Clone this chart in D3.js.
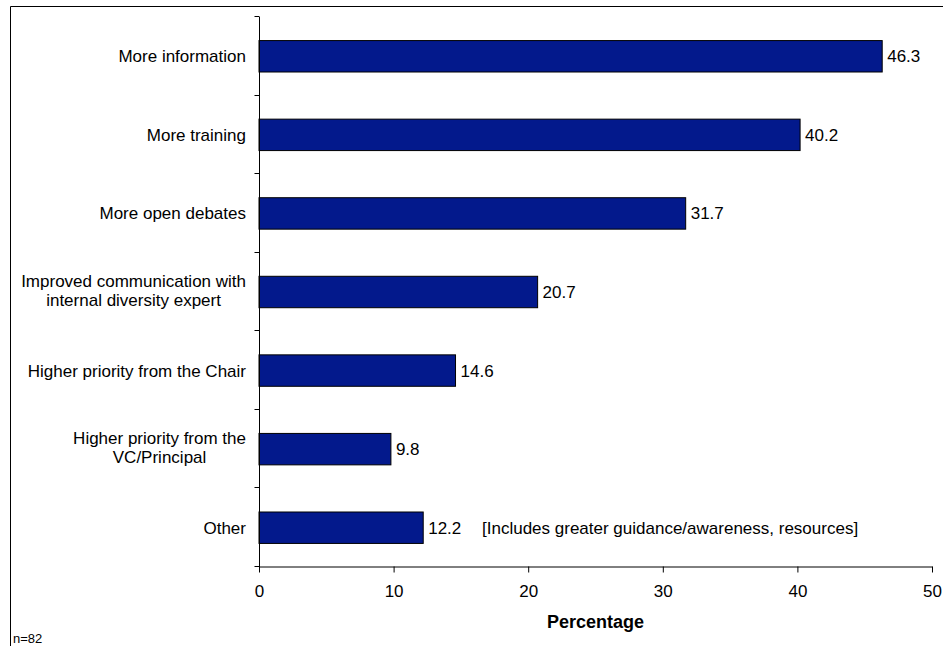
<!DOCTYPE html>
<html>
<head>
<meta charset="utf-8">
<script src="https://cdn.jsdelivr.net/npm/d3@7"></script>
<style>
  html, body { margin: 0; padding: 0; background: #fff; }
  svg { display: block; font-family: "Liberation Sans", Arial, sans-serif; }
</style>
</head>
<body>
<svg id="chart" width="943" height="646"></svg>
<script>
// Survey responses: what would help (percentage of respondents)
const categories = [
  "More information",
  "More training",
  "More open debates",
  "Improved communication with\ninternal diversity expert",
  "Higher priority from the Chair",
  "Higher priority from the\nVC/Principal",
  "Other"
];
const values = [46.3, 40.2, 31.7, 20.7, 14.6, 9.8, 12.2];
const xTicks = [0, 10, 20, 30, 40, 50];
const otherNote = "[Includes greater guidance/awareness, resources]";
const sampleNote = "n=82";
const xTitle = "Percentage";

const svg = d3.select("#chart");
const W = 943, H = 646;
const plot = { left: 259, right: 932, top: 17, bottom: 567 };
const barColor = "#03198C";
const fs = 17;

// outer frame (left and top edges)
svg.append("path")
  .attr("d", `M10.5,${H} L10.5,6.5 L${W},6.5`)
  .attr("fill", "none").attr("stroke", "#000").attr("stroke-width", 1);

const x = d3.scaleLinear().domain([0, 50]).range([plot.left, plot.right]);
const y = d3.scaleBand().domain(categories).range([plot.top, plot.bottom]).paddingInner(0.6).paddingOuter(0.3);
const yBand = d3.scaleBand().domain(categories).range([plot.top, plot.bottom]);

// bars
svg.append("g").selectAll("rect")
  .data(categories)
  .join("rect")
  .attr("x", x(0))
  .attr("y", d => y(d))
  .attr("width", (d, i) => x(values[i]) - x(0))
  .attr("height", y.bandwidth())
  .attr("fill", barColor)
  .attr("stroke", "#000")
  .attr("stroke-width", 1);

// value labels
svg.append("g").selectAll("text")
  .data(categories)
  .join("text")
  .attr("x", (d, i) => x(values[i]) + 5)
  .attr("y", d => y(d) + y.bandwidth() / 2)
  .attr("dy", "0.35em")
  .attr("font-size", fs)
  .text((d, i) => values[i].toFixed(1));

// note beside the "Other" bar
svg.append("text")
  .attr("x", 482)
  .attr("y", y("Other") + y.bandwidth() / 2)
  .attr("dy", "0.35em")
  .attr("font-size", fs)
  .text(otherNote);

// x axis
const xAxis = svg.append("g")
  .attr("transform", `translate(0,${plot.bottom - 0.5})`)
  .call(d3.axisBottom(x).tickValues(xTicks).tickSize(6).tickSizeOuter(0).tickPadding(12));
xAxis.select(".domain").attr("stroke", "#000");
xAxis.selectAll("text").attr("font-size", fs).attr("font-family", "Liberation Sans, Arial, sans-serif").attr("fill", "#000");

// y axis line with ticks between categories
const yAxisG = svg.append("g").attr("transform", `translate(${plot.left + 0.5},0)`);
yAxisG.append("line")
  .attr("x1", 0).attr("x2", 0)
  .attr("y1", plot.top).attr("y2", plot.bottom + 5)
  .attr("stroke", "#000");
const boundaries = categories.map(c => yBand(c)).concat([plot.bottom]);
yAxisG.selectAll("line.tick")
  .data(boundaries)
  .join("line")
  .attr("class", "tick")
  .attr("x1", -5).attr("x2", 0)
  .attr("y1", d => Math.round(d) - 0.5).attr("y2", d => Math.round(d) - 0.5)
  .attr("stroke", "#000");

// category labels: block right-aligned, lines centred within the block
const labelRight = plot.left - 13;
const lineH = 19;
categories.forEach(c => {
  const lines = c.split("\n");
  const cy = yBand(c) + yBand.bandwidth() / 2;
  const shift = lines.length > 1 ? -1.5 : 0;
  const g = svg.append("g");
  const texts = lines.map((ln, k) => g.append("text")
    .attr("y", cy + shift + (k - (lines.length - 1) / 2) * lineH)
    .attr("dy", "0.35em")
    .attr("font-size", fs)
    .text(ln));
  const widths = texts.map(t => t.node().getComputedTextLength());
  const maxW = d3.max(widths);
  const centre = labelRight - maxW / 2;
  texts.forEach(t => t.attr("x", centre).attr("text-anchor", "middle"));
});

// axis title
svg.append("text")
  .attr("x", (plot.left + plot.right) / 2)
  .attr("y", 628)
  .attr("text-anchor", "middle")
  .attr("font-size", 18)
  .attr("font-weight", "bold")
  .text(xTitle);

// sample size
svg.append("text")
  .attr("x", 13)
  .attr("y", 643)
  .attr("font-size", 13)
  .text(sampleNote);
</script>
</body>
</html>
